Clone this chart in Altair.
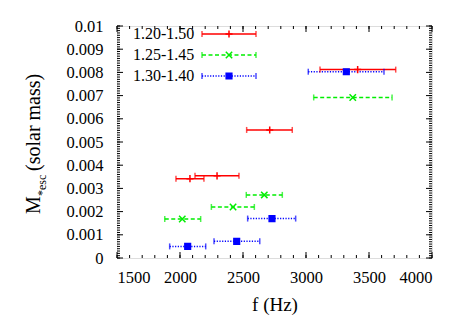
import altair as alt
import pandas as pd
import numpy as np

# ---------------- data ----------------
series = ["1.20-1.50", "1.25-1.45", "1.30-1.40"]
colors = ["#ff0000", "#00ee00", "#0000ff"]

red_f = [2079, 2294, 2712, 3410]
red_lo = [1968, 2119, 2529, 3111]
red_hi = [2190, 2468, 2891, 3712]
red_m = [0.00342, 0.00354, 0.00552, 0.00812]

green_f = [2018, 2421, 2669, 3371]
green_lo = [1879, 2249, 2526, 3061]
green_hi = [2164, 2590, 2812, 3683]
green_m = [0.00168, 0.00220, 0.00272, 0.00692]

blue_f = [2061, 2450, 2730, 3320]
blue_lo = [1918, 2270, 2537, 3018]
blue_hi = [2204, 2633, 2918, 3619]
blue_m = [0.00050, 0.00072, 0.00170, 0.00803]

x_ticks = [1500, 2000, 2500, 3000, 3500, 4000]
y_ticks = [0, 0.001, 0.002, 0.003, 0.004, 0.005, 0.006, 0.007, 0.008, 0.009, 0.01]
x_minor = list(np.arange(1500, 4001, 100))
y_minor = list(np.round(np.arange(0, 0.01001, 0.0001), 5))

# ---------------- tables ----------------
rows = []
for s, F, LO, HI, M in [
    (series[0], red_f, red_lo, red_hi, red_m),
    (series[1], green_f, green_lo, green_hi, green_m),
    (series[2], blue_f, blue_lo, blue_hi, blue_m),
]:
    for f, lo, hi, m in zip(F, LO, HI, M):
        rows.append({"series": s, "f": f, "flo": lo, "fhi": hi, "m": m})
df = pd.DataFrame(rows)
leg = pd.DataFrame({"series": series, "idx": [0, 1, 2]})

W, H = 315, 232
FONT = "Liberation Serif"

xscale = alt.Scale(domain=[1500, 4000], nice=False, zero=False)
yscale = alt.Scale(domain=[0, 0.01], nice=False, zero=True)
cscale = alt.Scale(domain=series, range=colors)
dscale = alt.Scale(domain=series, range=[[1, 0], [4, 2.5], [1.2, 1.5]])
shscale = alt.Scale(domain=series, range=["M-1,0L1,0M0,-1L0,1", "M-1,-1L1,1M-1,1L1,-1", "square"])
szscale = alt.Scale(domain=series, range=[50, 32, 22])

xaxis = alt.Axis(values=x_ticks, labelExpr="format(datum.value, 'd')",
                 labelPadding=11, title="f (Hz)", titlePadding=10)
yaxis = alt.Axis(values=y_ticks, labelExpr="format(datum.value, '~g')",
                 labelPadding=14, title="")

def X(field):
    return alt.X(field, scale=xscale, axis=xaxis)

def Y(field):
    return alt.Y(field, scale=yscale, axis=yaxis)

base = alt.Chart(df)

bars = base.mark_rule(strokeWidth=1.5).encode(
    x=X("flo:Q"), x2="fhi:Q", y=Y("m:Q"),
    color=alt.Color("series:N", scale=cscale, legend=None),
    strokeDash=alt.StrokeDash("series:N", scale=dscale, legend=None),
)
cap_lo = base.mark_tick(orient="vertical", size=6, thickness=1.5).encode(
    x=X("flo:Q"), y=Y("m:Q"),
    color=alt.Color("series:N", scale=cscale, legend=None),
)
cap_hi = base.mark_tick(orient="vertical", size=6, thickness=1.5).encode(
    x=X("fhi:Q"), y=Y("m:Q"),
    color=alt.Color("series:N", scale=cscale, legend=None),
)
pts = base.mark_point(filled=False, strokeWidth=1.5, opacity=1).encode(
    x=X("f:Q"), y=Y("m:Q"),
    shape=alt.Shape("series:N", scale=shscale, legend=None),
    size=alt.Size("series:N", scale=szscale, legend=None),
    stroke=alt.Stroke("series:N", scale=cscale, legend=None),
    fill=alt.Fill("series:N", scale=cscale, legend=None),
)

# ---------------- legend (inside plot, top left) ----------------
lg = alt.Chart(leg).transform_calculate(ly="8 + 21 * datum.idx")
lg_text = lg.mark_text(align="left", baseline="middle", font=FONT, fontSize=16, color="black").encode(
    x=alt.value(16), y=alt.Y("ly:Q", scale=None, axis=None), text="series:N")
lg_line = lg.mark_rule(strokeWidth=1.5).encode(
    x=alt.value(85), x2=alt.value(139), y=alt.Y("ly:Q", scale=None, axis=None),
    color=alt.Color("series:N", scale=cscale, legend=None),
    strokeDash=alt.StrokeDash("series:N", scale=dscale, legend=None))
lg_cap1 = lg.mark_tick(orient="vertical", size=6, thickness=1.5).encode(
    x=alt.value(85), y=alt.Y("ly:Q", scale=None, axis=None),
    color=alt.Color("series:N", scale=cscale, legend=None))
lg_cap2 = lg.mark_tick(orient="vertical", size=6, thickness=1.5).encode(
    x=alt.value(139), y=alt.Y("ly:Q", scale=None, axis=None),
    color=alt.Color("series:N", scale=cscale, legend=None))
lg_pt = lg.mark_point(filled=False, strokeWidth=1.5, opacity=1).encode(
    x=alt.value(112), y=alt.Y("ly:Q", scale=None, axis=None),
    shape=alt.Shape("series:N", scale=shscale, legend=None),
    size=alt.Size("series:N", scale=szscale, legend=None),
    stroke=alt.Stroke("series:N", scale=cscale, legend=None),
    fill=alt.Fill("series:N", scale=cscale, legend=None))

# ---------------- inward tick marks on all four sides ----------------
dxM = pd.DataFrame({"v": x_ticks})
dxm = pd.DataFrame({"v": x_minor})
dyM = pd.DataFrame({"v": y_ticks})
dym = pd.DataFrame({"v": y_minor})

def xt(d, y0, y1):
    return alt.Chart(d).mark_rule(color="black", strokeWidth=1).encode(
        x=X("v:Q"), y=alt.value(y0), y2=alt.value(y1))

def yt(d, x0, x1):
    return alt.Chart(d).mark_rule(color="black", strokeWidth=1).encode(
        y=Y("v:Q"), x=alt.value(x0), x2=alt.value(x1))

ticks = [xt(dxM, H, H - 6), xt(dxM, 0, 6), xt(dxm, H, H - 3), xt(dxm, 0, 3),
         yt(dyM, 0, 6), yt(dyM, W, W - 6), yt(dym, 0, 3), yt(dym, W, W - 3)]

# ---------------- y title with subscript ----------------
one = pd.DataFrame({"a": [0]})
def ttl(txt, x, y, size):
    return alt.Chart(one).mark_text(text=txt, angle=270, align="left", baseline="alphabetic",
                                    font=FONT, fontSize=size, color="black").encode(
        x=alt.value(x), y=alt.value(y))

titles = [ttl("M", -77, 188, 20), ttl("*esc", -71, 170, 12), ttl("(solar mass)", -77, 145, 20)]

chart = alt.layer(bars, cap_lo, cap_hi, pts, lg_line, lg_cap1, lg_cap2, lg_pt, lg_text,
                  *ticks, *titles).properties(
    width=W, height=H,
    autosize=alt.AutoSizeParams(type="none"),
    padding={"left": 109, "top": 18, "right": 20, "bottom": 64},
).configure_view(stroke="black", strokeWidth=1).configure(background="white").configure_axis(
    ticks=False, tickSize=0, domain=False, grid=False,
    labelFont=FONT, labelFontSize=16.5, labelColor="black",
    titleFont=FONT, titleFontSize=19, titleFontWeight="normal", titleColor="black",
)

chart.save("out.html", embed_options={"renderer": "svg", "actions": False})
